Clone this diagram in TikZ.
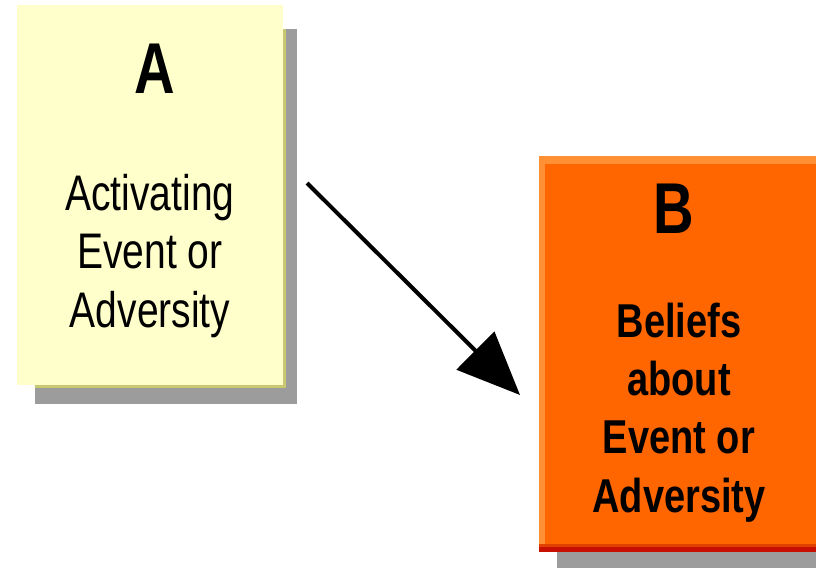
\documentclass[tikz,border=0pt]{standalone}
\usepackage{fontspec}
\usetikzlibrary{arrows.meta}
\newfontfamily\narrowA[FakeStretch=0.78]{Liberation Sans}
\newfontfamily\narrowB[FakeStretch=0.8]{Liberation Sans}
\definecolor{paleyellow}{HTML}{FFFFCC}
\definecolor{olive}{HTML}{C8C870}
\definecolor{shadowgray}{HTML}{9C9C9C}
\definecolor{boxorange}{HTML}{FF6600}
\definecolor{lightorange}{HTML}{FF9033}
\definecolor{darkorange}{HTML}{E04000}
\definecolor{edgered}{HTML}{C81000}
\tikzset{
  letterA/.style={font=\narrowA\bfseries\fontsize{72}{72}\selectfont, anchor=base, inner sep=0pt},
  textA/.style={font=\narrowA\fontsize{50}{58}\selectfont, anchor=base, inner sep=0pt},
  textB/.style={font=\narrowB\bfseries\fontsize{47.5}{58}\selectfont, anchor=base, inner sep=0pt},
  pointer/.style={line width=4pt, -{Triangle[length=63pt,width=53pt]}}
}
\begin{document}
\begin{tikzpicture}[x=1pt,y=-1pt]
\useasboundingbox (0,0) rectangle (816,568);
% Box A
\fill[shadowgray] (35,29) rectangle (297,404);
\fill[olive] (35,29) rectangle (286,388);
\node[fill=paleyellow, inner sep=0pt, minimum width=266pt, minimum height=380pt, anchor=north west] (A) at (17,5) {};
\node[letterA] (aA) at (155,93) {A};
\node[textA] (a1) at (150,210) {Activating};
\node[textA] (a2) at (150,268) {Event or};
\node[textA] (a3) at (150,327) {Adversity};
% Box B
\fill[shadowgray] (557,552) rectangle (816,568);
\fill[edgered] (539,547) rectangle (816,552);
\node[fill=boxorange, inner sep=0pt, minimum width=277pt, minimum height=391pt, anchor=north west] (B) at (539,156) {};
\fill[lightorange] (539,156) rectangle (816,164);
\fill[lightorange] (539,156) rectangle (545,547);
\fill[darkorange] (539,544) rectangle (816,547);
\node[letterA] (bB) at (674,233) {B};
\node[textB] (b1) at (679,337) {Beliefs};
\node[textB] (b2) at (679,395) {about};
\node[textB] (b3) at (679,453) {Event or};
\node[textB] (b4) at (679,512) {Adversity};
% Arrow
\coordinate (start) at (307,183);
\coordinate (tip) at (520,395);
\draw[pointer] (start) -- (tip);
\end{tikzpicture}
\end{document}
